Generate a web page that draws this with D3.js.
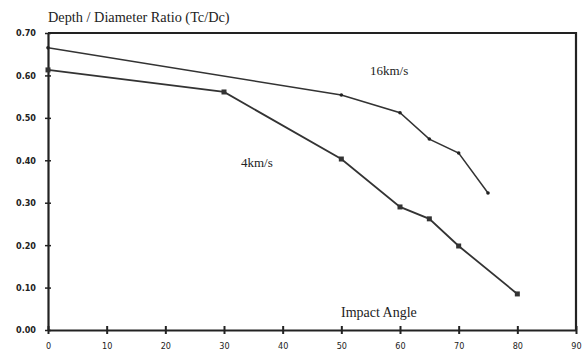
<!DOCTYPE html>
<html>
<head>
<meta charset="utf-8">
<script src="https://cdn.jsdelivr.net/npm/d3@7"></script>
<style>
  body { margin: 0; background: #fff; }
  svg { display: block; }
  .tick text { font-family: "DejaVu Sans Condensed", "Liberation Sans", sans-serif; font-size: 9px; fill: #222; }
  .lbl { font-family: "Liberation Serif", "DejaVu Serif", serif; fill: #222; }
</style>
</head>
<body>
<div id="chart"></div>
<script>
// Données
const angles16 = [0, 50, 60, 65, 70, 75]
const ratio16 = [0.665, 0.554, 0.512, 0.450, 0.417, 0.323]
const angles4 = [0, 30, 50, 60, 65, 70, 80]
const ratio4 = [0.613, 0.561, 0.403, 0.290, 0.262, 0.198, 0.085]
const xTicks = [0, 10, 20, 30, 40, 50, 60, 70, 80, 90]
const yTicks = [0, 0.1, 0.2, 0.3, 0.4, 0.5, 0.6, 0.7]

const width = 587
const height = 351
const margin = { top: 33, right: 11, bottom: 21, left: 48 }

const svg = d3.select('#chart')
  .append('svg')
  .attr('width', width)
  .attr('height', height)

const scaleX = d3.scaleLinear()
  .domain([0, 90])
  .range([margin.left, width - margin.right])

const scaleY = d3.scaleLinear()
  .domain([0, 0.7])
  .range([height - margin.bottom, margin.top])

// Cadre (haut et droite)
svg.append('path')
  .attr('d', `M${scaleX(0)},${scaleY(0.7)}H${scaleX(90)}V${scaleY(0)}`)
  .attr('fill', 'none')
  .attr('stroke', '#222')
  .attr('stroke-width', 2.2)

// Axes
const xAxis = svg.append('g')
  .attr('transform', `translate(0,${scaleY(0)})`)
  .call(d3.axisBottom(scaleX).tickValues(xTicks).tickSize(4).tickSizeOuter(0).tickFormat(d3.format('d')))
xAxis.select('.domain').attr('stroke', '#222').attr('stroke-width', 2.2)
xAxis.selectAll('.tick line').attr('y1', -4).attr('stroke', '#222').attr('stroke-width', 2)
xAxis.selectAll('.tick text').attr('y', 13)

const yAxis = svg.append('g')
  .attr('transform', `translate(${scaleX(0)},0)`)
  .call(d3.axisLeft(scaleY).tickValues(yTicks).tickSize(3).tickSizeOuter(0).tickFormat(d3.format('.2f')))
yAxis.select('.domain').attr('stroke', '#222').attr('stroke-width', 2.2)
yAxis.selectAll('.tick line').attr('x1', 3).attr('x2', -3).attr('stroke', '#222').attr('stroke-width', 1.5)
yAxis.selectAll('.tick text').attr('x', -12).attr('font-weight', 'bold')

// Courbes
const line = d3.line().x(d => scaleX(d[0])).y(d => scaleY(d[1]))
const series16 = angles16.map((a, i) => [a, ratio16[i]])
const series4 = angles4.map((a, i) => [a, ratio4[i]])

svg.append('path')
  .datum(series16)
  .attr('d', line)
  .attr('fill', 'none')
  .attr('stroke', '#333')
  .attr('stroke-width', 1.5)

svg.append('path')
  .datum(series4)
  .attr('d', line)
  .attr('fill', 'none')
  .attr('stroke', '#333')
  .attr('stroke-width', 1.8)

svg.append('g')
  .selectAll('circle')
  .data(series16)
  .join('circle')
  .attr('cx', d => scaleX(d[0]))
  .attr('cy', d => scaleY(d[1]))
  .attr('r', 1.8)
  .attr('fill', '#222')

svg.append('g')
  .selectAll('rect')
  .data(series4)
  .join('rect')
  .attr('x', d => scaleX(d[0]) - 2.5)
  .attr('y', d => scaleY(d[1]) - 2.5)
  .attr('width', 5)
  .attr('height', 5)
  .attr('fill', '#333')

// Titraille
svg.append('text')
  .attr('class', 'lbl')
  .attr('x', 48)
  .attr('y', 22)
  .attr('font-size', 14.3)
  .text('Depth / Diameter Ratio (Tc/Dc)')

svg.append('text')
  .attr('class', 'lbl')
  .attr('x', 370)
  .attr('y', 75)
  .attr('font-size', 13)
  .text('16km/s')

svg.append('text')
  .attr('class', 'lbl')
  .attr('x', 241)
  .attr('y', 167)
  .attr('font-size', 13)
  .text('4km/s')

svg.append('text')
  .attr('class', 'lbl')
  .attr('x', 341)
  .attr('y', 317)
  .attr('font-size', 14)
  .text('Impact Angle')
</script>
</body>
</html>
